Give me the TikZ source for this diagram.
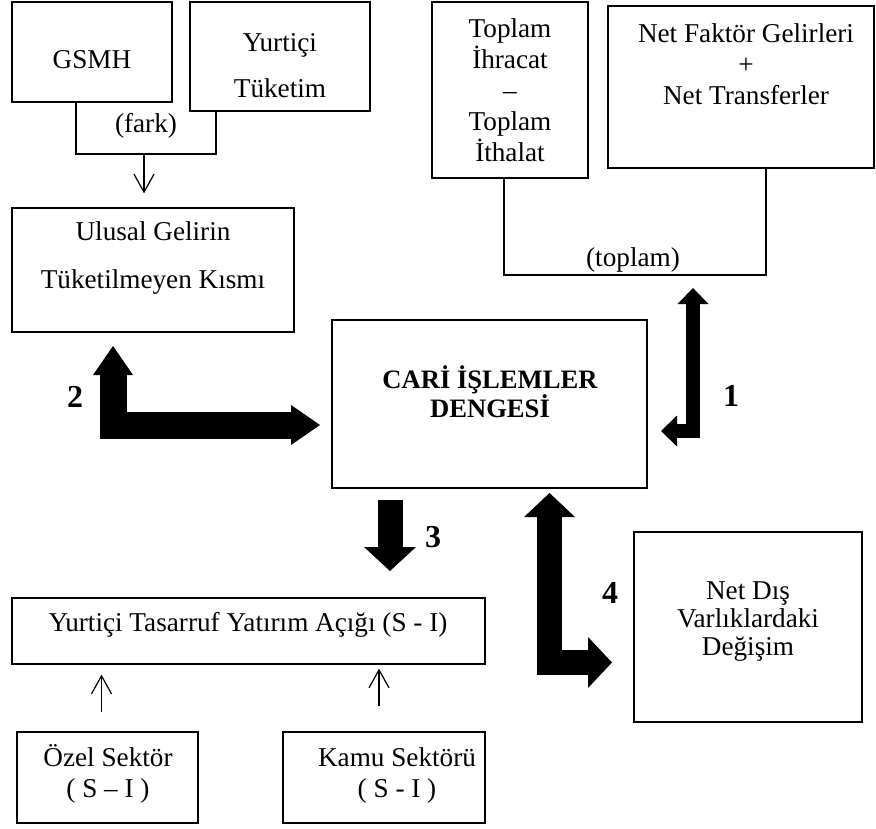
\documentclass[tikz,border=0pt]{standalone}
\usepackage{fontspec}
\setmainfont{Liberation Serif}
\usetikzlibrary{arrows.meta,fit,positioning}

\begin{document}
\begin{tikzpicture}[x=0.5pt,y=-0.5pt,
  box/.style={draw,line width=0.6pt,inner sep=0pt},
  txt/.style={align=center,font=\fontsize{13.6}{15.5}\selectfont},
  link/.style={line width=0.6pt},
  thin arrow/.style={line width=0.6pt,-{Straight Barb[length=9pt,width=10pt]}},
  fat/.style={line width=#1,line join=miter},
  num/.style={font=\fontsize{16}{19}\selectfont\bfseries}]
\useasboundingbox (0,0) rectangle (876,828);

% boxes
\node[box,fit={(12,2) (172,102)}] (gsmh) {};
\node[box,fit={(190,2) (370,111)}] (ytk) {};
\node[box,fit={(12,208) (294,332)}] (ulusal) {};
\node[box,fit={(432,2) (588,178)}] (tpl) {};
\node[box,fit={(608,6) (874,168)}] (nfg) {};
\node[box,fit={(332,320) (647,488)}] (cari) {};
\node[box,fit={(634,532) (862,722)}] (ndv) {};
\node[box,fit={(12,598) (485,664)}] (tys) {};
\node[box,fit={(17,732) (198,823)}] (ozel) {};
\node[box,fit={(283,732) (485,823)}] (kamu) {};

% texts
\node[txt] (gsmh-t) at (92,60) {GSMH};
\node[txt] (ytk-t) at (280,66) {Yurtiçi\\[7.5pt]Tüketim};
\node[txt] (ulusal-t) at (153,258) {Ulusal Gelirin\\[8.5pt]Tüketilmeyen Kısmı};
\node[txt] (tpl-t) at (510,90) {Toplam\\İhracat\\–\\Toplam\\İthalat};
\node[txt] (nfg-t) at (746,64) {Net Faktör Gelirleri\\+\\Net Transferler};
\node[txt,font=\fontsize{13.3}{14.5}\selectfont\bfseries] (cari-t) at (490,392) {CARİ İŞLEMLER\\DENGESİ};
\node[txt,font=\fontsize{13.6}{14}\selectfont] (ndv-t) at (748,622) {Net Dış\\Varlıklardaki\\Değişim};
\node[txt] (tys-t) at (248,625) {Yurtiçi Tasarruf Yatırım Açığı (S - I)};
\node[txt] (ozel-t) at (108,774) {Özel Sektör\\( S – I )};
\node[txt] (kamu-t) at (397,775) {Kamu Sektörü\\( S - I )};

% thin connectors
\coordinate (fk) at (144,154);
\coordinate (tp) at (693,275);
\draw[link] ([xshift=-8pt]gsmh.south) |- (fk) -| ([xshift=-32pt]ytk.south);
\node[txt] (fark) at (146,126) {(fark)};
\draw[thin arrow,shorten >=7pt] (fk) -- (fk |- ulusal.north);
\draw[link] ([xshift=-3pt]tpl.south) |- (tp) -| ([xshift=12.5pt]nfg.south);
\node[txt] (toplam) at (633,260) {(toplam)};
\draw[thin arrow,shorten <=9.5pt,shorten >=5pt] ([xshift=-3pt]ozel.north) -- ([xshift=-3pt]ozel.north |- tys.south);
\draw[thin arrow,shorten <=12.5pt,shorten >=2pt] ([xshift=-2.5pt]kamu.north) -- ([xshift=-2.5pt]kamu.north |- tys.south);

% fat arrows
\coordinate (a1) at (693,288);
\coordinate (b1) at (661,431);
\coordinate (a2) at (113,346);
\coordinate (b2) at (320,425);
\coordinate (a3) at (390,500);
\coordinate (b3) at (390,571);
\coordinate (a4) at (549.5,493);
\coordinate (b4) at (612,662.5);
\draw[fat=7pt,arrows={Triangle[length=8pt,width=15.5pt,line width=0pt]-Triangle[length=8pt,width=15.5pt,line width=0pt]}] (a1) |- (b1);
\draw[fat=13.5pt,arrows={Triangle[length=14.5pt,width=20pt,line width=0pt]-Triangle[length=14.5pt,width=20pt,line width=0pt]}] (a2) |- (b2);
\draw[fat=12.5pt,arrows={-Triangle[length=12pt,width=26pt,line width=0pt]}] (a3) -- (b3);
\draw[fat=12.5pt,arrows={Triangle[length=12pt,width=25.5pt,line width=0pt]-Triangle[length=12pt,width=25.5pt,line width=0pt]}] (a4) |- (b4);

\node[num] (n1) at (731,396) {1};
\node[num] (n2) at (75,397) {2};
\node[num] (n3) at (433,537) {3};
\node[num] (n4) at (610,593) {4};
\end{tikzpicture}
\end{document}
